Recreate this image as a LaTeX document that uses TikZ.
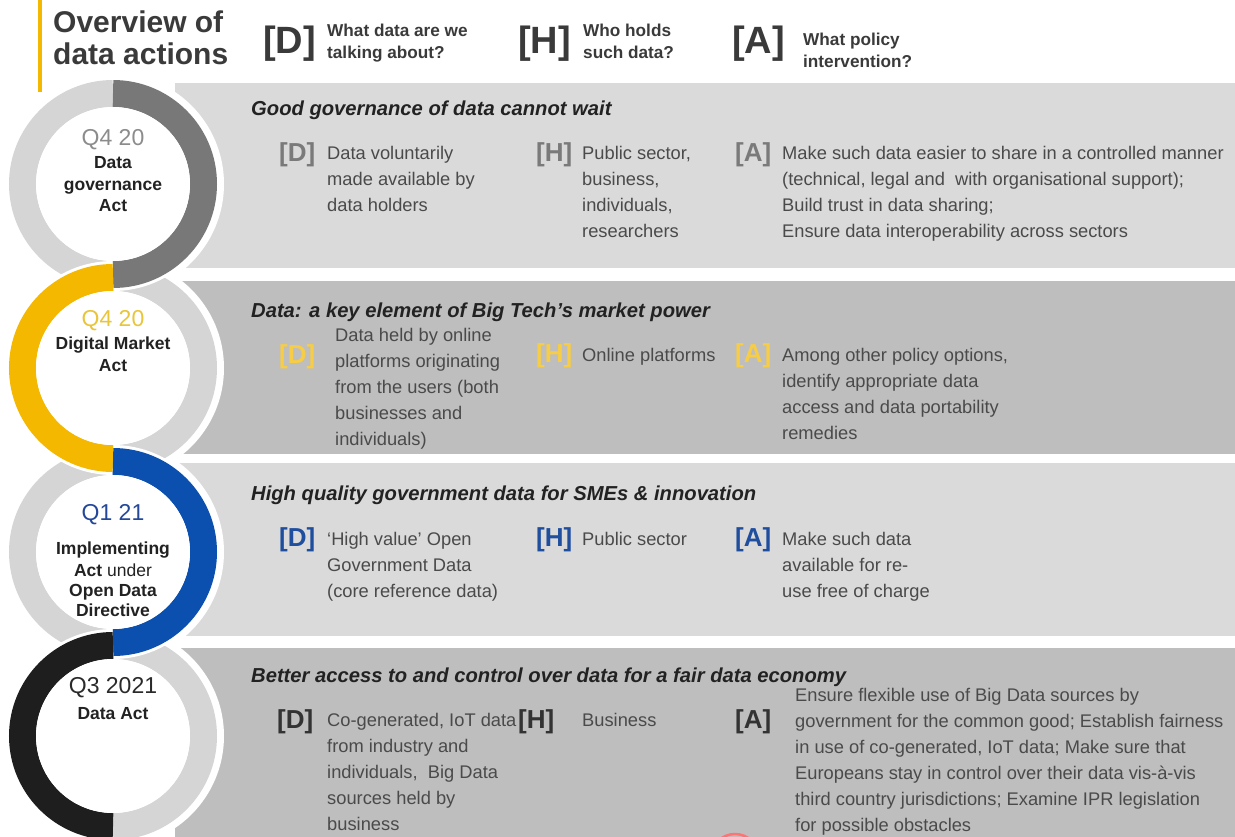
\documentclass[tikz,border=0pt]{standalone}
\usepackage{fontspec}
\setmainfont{Liberation Sans}
\usetikzlibrary{calc}
\definecolor{bandA}{HTML}{DADADA}
\definecolor{bandB}{HTML}{BEBEBE}
\definecolor{ringgray}{HTML}{D5D5D5}
\definecolor{ringdark}{HTML}{787878}
\definecolor{eyellow}{HTML}{F5B800}
\definecolor{eblue}{HTML}{0B4FAF}
\definecolor{eblack}{HTML}{1E1E1E}
\definecolor{hdr}{HTML}{3A3A3A}
\definecolor{bodytxt}{HTML}{4A4A4A}
\definecolor{titletxt}{HTML}{222222}
\definecolor{lbgray}{HTML}{7A7A7A}
\definecolor{lbyellow}{HTML}{F7CD45}
\definecolor{lbblue}{HTML}{1F4E9E}
\definecolor{lbdark}{HTML}{333333}
\definecolor{qgray}{HTML}{8C8C8C}
\definecolor{qyellow}{HTML}{E9C53A}
\definecolor{qblue}{HTML}{24479A}
\definecolor{qdark}{HTML}{2A2A2A}
\newcommand\fsz[2]{\fontsize{#1}{#2}\selectfont}
\tikzset{
  body/.style={font=\fsz{18.3}{26}, text=bodytxt, align=left, anchor=north west, inner sep=0pt},
  bandtitle/.style={font=\fsz{20.2}{24}\bfseries\itshape, text=titletxt, anchor=base west, inner sep=0pt},
  brk/.style={font=\fsz{26}{30}\bfseries, anchor=west, inner sep=0pt},
  bigbrk/.style={font=\fsz{38}{40}\bfseries, text=hdr, anchor=west, inner sep=0pt},
  hq/.style={font=\fsz{17.2}{23}\bfseries, text=hdr, anchor=base west, inner sep=0pt},
  ctext/.style={font=\fsz{17.5}{21}\bfseries, text=titletxt, anchor=base, inner sep=0pt},
  qtext/.style={font=\fsz{23}{26}, anchor=base, inner sep=0pt},
  band/.style={fill=#1, draw=none},
  halfring/.style={draw=#1, line width=27pt},
  halfborder/.style={draw=white, line width=33pt}
}
\begin{document}
\begin{tikzpicture}[x=1pt,y=-1pt]
\useasboundingbox (0,0) rectangle (1235,836);
\clip (0,0) rectangle (1235,836);
\fill[white] (0,0) rectangle (1235,836);
% bands
\fill[band=bandA] (175,83) rectangle (1235,268);
\fill[band=bandB] (175,281) rectangle (1235,454);
\fill[band=bandA] (175,463) rectangle (1235,636);
\fill[band=bandB] (175,648) rectangle (1235,840);
% circle centres
\coordinate (c1) at (113,184);
\coordinate (c2) at (113,368);
\coordinate (c3) at (113,552);
\coordinate (c4) at (113,736);
% white discs cutting bands
\foreach \c in {c1,c2,c3,c4} \fill[white] (\c) circle (111);
% gray halves
\draw[halfring=ringgray] ($(c1)+(90:90.5)$) arc[start angle=90,end angle=270,radius=90.5];
\draw[halfring=ringgray] ($(c2)+(90:90.5)$) arc[start angle=90,end angle=-90,radius=90.5];
\draw[halfring=ringgray] ($(c3)+(90:90.5)$) arc[start angle=90,end angle=270,radius=90.5];
\draw[halfring=ringgray] ($(c4)+(90:90.5)$) arc[start angle=90,end angle=-90,radius=90.5];
% coloured halves
\draw[halfborder] ($(c1)+(90:90.5)$) arc[start angle=90,end angle=-90,radius=90.5];
\draw[halfring=ringdark] ($(c1)+(90:90.5)$) arc[start angle=90,end angle=-90,radius=90.5];
\draw[halfborder] ($(c2)+(90:90.5)$) arc[start angle=90,end angle=270,radius=90.5];
\draw[halfring=eyellow] ($(c2)+(90:90.5)$) arc[start angle=90,end angle=270,radius=90.5];
\draw[halfborder] ($(c3)+(90:90.5)$) arc[start angle=90,end angle=-90,radius=90.5];
\draw[halfring=eblue] ($(c3)+(90:90.5)$) arc[start angle=90,end angle=-90,radius=90.5];
\draw[halfborder] ($(c4)+(90:90.5)$) arc[start angle=90,end angle=270,radius=90.5];
\draw[halfring=eblack] ($(c4)+(90:90.5)$) arc[start angle=90,end angle=270,radius=90.5];
% inner discs
\foreach \c in {c1,c2,c3,c4} \fill[white] (\c) circle (77);
% small red mark at the bottom
\draw[red!55!white, line width=2.5pt] (735,858) circle (24);
% yellow header rule
\draw[eyellow, line width=4pt] (40,0) -- (40,92);
% header
\node[font=\fsz{30}{31}\bfseries, text=hdr, anchor=base west, inner sep=0pt] (hd1) at (53,32) {Overview of};
\node[font=\fsz{30}{31}\bfseries, text=hdr, anchor=base west, inner sep=0pt] (hd2) at (53,64) {data actions};
\node[bigbrk] (hD) at (263,44) {[D]};
\node[hq] (hDq1) at (327,36) {What data are we};
\node[hq] (hDq2) at (327,58) {talking about?};
\node[bigbrk] (hH) at (518,44) {[H]};
\node[hq] (hHq1) at (583,36) {Who holds};
\node[hq] (hHq2) at (583,58) {such data?};
\node[bigbrk] (hA) at (732,44) {[A]};
\node[hq] (hAq1) at (803,45) {What policy};
\node[hq] (hAq2) at (803,67) {intervention?};
% circle texts
\node[qtext, text=qgray] (q1) at (113,145) {Q4 20};
\node[ctext] (n1a) at (113,168) {Data};
\node[ctext] (n1b) at (113,190) {governance};
\node[ctext] (n1c) at (113,211) {Act};
\node[qtext, text=qyellow] (q2) at (113,326) {Q4 20};
\node[ctext] (n2a) at (113,349) {Digital Market};
\node[ctext] (n2b) at (113,371) {Act};
\node[qtext, text=qblue] (q3) at (113,520) {Q1 21};
\node[ctext] (n3a) at (113,554) {Implementing};
\node[ctext] (n3b) at (113,576) {Act \mdseries under};
\node[ctext] (n3c) at (113,596) {Open Data};
\node[ctext] (n3d) at (113,616) {Directive};
\node[qtext, text=qdark] (q4) at (113,693) {Q3 2021};
\node[ctext] (n4a) at (113,719) {Data Act};
% band 1
\node[bandtitle] (t1) at (251,115) {Good governance of data cannot wait};
\node[brk, text=lbgray] (b1d) at (279,155) {[D]};
\node[body] (d1) at (327,153-12.2) {\strut Data voluntarily\\made available by\\data holders};
\node[brk, text=lbgray] (b1h) at (536,155) {[H]};
\node[body] (h1) at (582,153-12.2) {\strut Public sector,\\business,\\individuals,\\researchers};
\node[brk, text=lbgray] (b1a) at (735,155) {[A]};
\node[body] (a1) at (782,153-12.2) {\strut Make such data easier to share in a controlled manner\\(technical, legal and\ \ with organisational support);\\Build trust in data sharing;\\Ensure data interoperability across sectors};
% band 2
\node[bandtitle] (t2) at (251,317) {Data: a key element of Big Tech’s market power};
\node[brk, text=lbyellow] (b2d) at (279,357) {[D]};
\node[body] (d2) at (335,335-12.2) {\strut Data held by online\\platforms originating\\from the users (both\\businesses and\\individuals)};
\node[brk, text=lbyellow] (b2h) at (536,356) {[H]};
\node[body] (h2) at (582,355-12.2) {\strut Online platforms};
\node[brk, text=lbyellow] (b2a) at (735,356) {[A]};
\node[body] (a2) at (782,355-12.2) {\strut Among other policy options,\\identify appropriate data\\access and data portability\\remedies};
% band 3
\node[bandtitle] (t3) at (251,500) {High quality government data for SMEs \& innovation};
\node[brk, text=lbblue] (b3d) at (279,540) {[D]};
\node[body] (d3) at (327,539-12.2) {\strut ‘High value’ Open\\Government Data\\(core reference data)};
\node[brk, text=lbblue] (b3h) at (536,540) {[H]};
\node[body] (h3) at (582,539-12.2) {\strut Public sector};
\node[brk, text=lbblue] (b3a) at (735,540) {[A]};
\node[body] (a3) at (782,539-12.2) {\strut Make such data\\available for re-\\use free of charge};
% band 4
\node[bandtitle] (t4) at (251,682) {Better access to and control over data for a fair data economy};
\node[brk, text=lbdark] (b4d) at (277,722) {[D]};
\node[body] (d4) at (327,720-12.2) {\strut Co-generated, IoT data\\from industry and\\individuals,\ \ Big Data\\sources held by\\business};
\node[brk, text=lbdark] (b4h) at (518,722) {[H]};
\node[body] (h4) at (582,720-12.2) {\strut Business};
\node[brk, text=lbdark] (b4a) at (735,722) {[A]};
\node[body] (a4) at (795,695-12.2) {\strut Ensure flexible use of Big Data sources by\\government for the common good; Establish fairness\\in use of co-generated, IoT data; Make sure that\\Europeans stay in control over their data vis-à-vis\\third country jurisdictions; Examine IPR legislation\\for possible obstacles};
\end{tikzpicture}
\end{document}
